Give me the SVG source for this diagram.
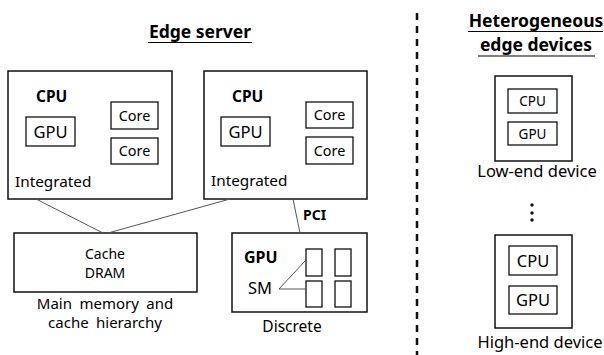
<svg xmlns="http://www.w3.org/2000/svg" width="604" height="355" viewBox="0 0 604 355">
<style>
text{font-family:"Noto Sans","Open Sans","Liberation Sans",sans-serif;fill:#000}
.box{fill:#fff;stroke:#111;stroke-width:1.5}
.sm{fill:#fff;stroke:#111;stroke-width:1.3}
.b{font-weight:bold}
.c{text-anchor:middle}
.ln{stroke:#555;stroke-width:1;fill:none}
.t{font-size:17.5px;font-weight:bold}
</style>
<rect width="604" height="355" fill="#fff"/>
<g id="titles">
<text class="t c" x="200" y="38">Edge server</text>
<line x1="148" y1="42.5" x2="252" y2="42.5" stroke="#000" stroke-width="1.2"/>
<text class="t c" x="536" y="27">Heterogeneous</text>
<line x1="468" y1="31.5" x2="603" y2="31.5" stroke="#000" stroke-width="1.2"/>
<text class="t c" x="536" y="51">edge devices</text>
<line x1="478" y1="56" x2="595" y2="56" stroke="#000" stroke-width="1.2"/>
</g>
<g id="divider">
<line x1="417" y1="13" x2="417" y2="355" stroke="#111" stroke-width="2.5" stroke-dasharray="7 6"/>
</g>
<g id="cpu1">
<rect class="box" x="8" y="71" width="164" height="128"/>
<text class="b" x="36" y="102" font-size="15.5">CPU</text>
<rect class="sm" x="26" y="117" width="49" height="29"/>
<text class="c" x="50.5" y="138" font-size="16.5">GPU</text>
<rect class="sm" x="111" y="102" width="47" height="27"/>
<text class="c" x="134.5" y="121" font-size="14.4">Core</text>
<rect class="sm" x="111" y="138" width="47" height="26"/>
<text class="c" x="134.5" y="156" font-size="14.4">Core</text>
<text x="15" y="187" font-size="15.3">Integrated</text>
</g>
<g id="cpu2">
<rect class="box" x="204" y="71" width="163" height="128"/>
<text class="b" x="232" y="102" font-size="15.5">CPU</text>
<rect class="sm" x="221" y="117" width="49" height="29"/>
<text class="c" x="245.5" y="138" font-size="16.5">GPU</text>
<rect class="sm" x="306" y="102" width="47" height="26"/>
<text class="c" x="329.5" y="120" font-size="14.4">Core</text>
<rect class="sm" x="306" y="137" width="47" height="27"/>
<text class="c" x="329.5" y="156" font-size="14.4">Core</text>
<text x="211" y="186" font-size="15.3">Integrated</text>
</g>
<g id="memory">
<rect class="box" x="14" y="233" width="183" height="59"/>
<text class="c" x="105" y="259" font-size="14">Cache</text>
<text class="c" x="105" y="278" font-size="14">DRAM</text>
<text class="c" x="105" y="309" font-size="15" word-spacing="3.5">Main memory and</text>
<text class="c" x="105" y="328" font-size="15" word-spacing="3.5">cache hierarchy</text>
</g>
<g id="discrete-gpu">
<rect class="box" x="232" y="233" width="135" height="79"/>
<text class="b" x="244" y="263" font-size="16">GPU</text>
<text x="248" y="294" font-size="16.5">SM</text>
<rect class="sm" x="306" y="249" width="16" height="27"/>
<rect class="sm" x="335" y="249" width="16" height="27"/>
<rect class="sm" x="306" y="281" width="16" height="26"/>
<rect class="sm" x="335" y="281" width="16" height="26"/>
<text class="c" x="292" y="332" font-size="15.5">Discrete</text>
</g>
<g id="low-end">
<rect class="box" x="495" y="76" width="77" height="85"/>
<rect class="sm" x="508" y="89" width="49" height="24"/>
<text class="c" x="532.5" y="106" font-size="13.5">CPU</text>
<rect class="sm" x="508" y="122" width="49" height="23"/>
<text class="c" x="532.5" y="138.5" font-size="13.5">GPU</text>
<text class="c" x="537" y="177" font-size="16.5">Low-end device</text>
</g>
<g id="dots">
<circle cx="532" cy="205" r="1.7" fill="#111"/>
<circle cx="532" cy="213" r="1.7" fill="#111"/>
<circle cx="532" cy="220" r="1.7" fill="#111"/>
</g>
<g id="high-end">
<rect class="box" x="495" y="235" width="77" height="93"/>
<rect class="sm" x="509" y="246" width="48" height="29"/>
<text class="c" x="533" y="266.5" font-size="16.5">CPU</text>
<rect class="sm" x="509" y="286" width="48" height="28"/>
<text class="c" x="533" y="306" font-size="16.5">GPU</text>
<text class="c" x="540" y="348" font-size="16.5">High-end device</text>
</g>
<g id="connectors">
<line class="ln" x1="36" y1="199" x2="103" y2="233"/>
<line class="ln" x1="230" y1="199" x2="108" y2="233"/>
<line class="ln" x1="293" y1="199" x2="300" y2="233"/>
<line class="ln" x1="279" y1="289" x2="306" y2="260"/>
<line class="ln" x1="279" y1="289" x2="306" y2="289"/>
<text class="b" x="303" y="220" font-size="14">PCI</text>
</g>
</svg>
